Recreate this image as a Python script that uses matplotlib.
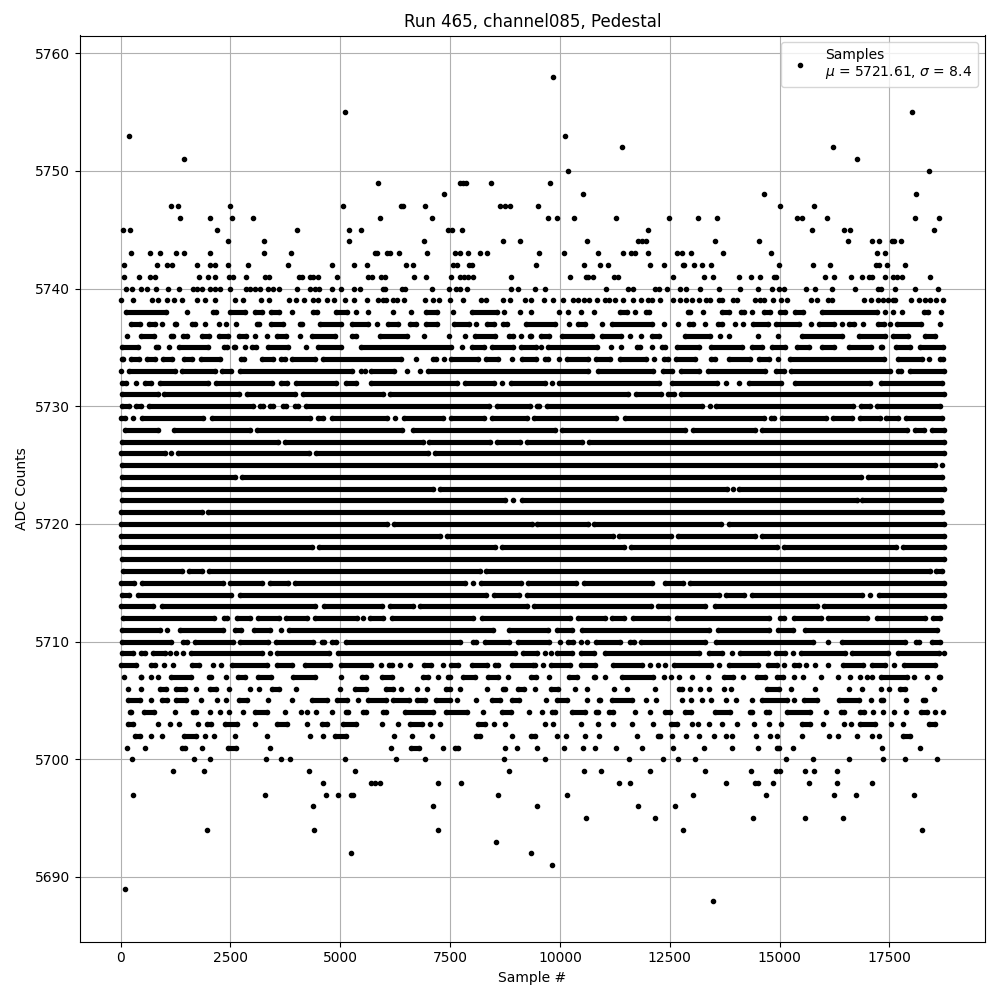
import matplotlib
matplotlib.use("Agg")
import matplotlib.pyplot as plt

# sample numbers for every ADC level.
# a plain number is one sample, a (first, last) pair is a run of samples
# so close together that the dots merge into a solid bar
adc_5758 = [9840]
adc_5755 = [5100, 18025]
adc_5753 = [198, 10114]
adc_5752 = [11414, 16224]
adc_5751 = [1452, 16772]
adc_5750 = [10182, 18405]
adc_5749 = [5852, 7729, 7790, 7851, 8428, 9772]
adc_5748 = [7357, 10524, 14651, 18117]
adc_5747 = [1155, 1315, 2478, 5054, 6384, 6437, 6924, 8634, 8748, 8862, 9507, 15016, 15791]
adc_5746 = [1360, 2022, 2523, 3002, 5898, 7083, 9726, 9932, 10319, 11277, 12485, 13146, 13580,
            15404, 15518, 16088, 18094, 18641]
adc_5745 = [61, 220, 2204, 4005, 5190, 5464, 7448, 7539, 7767, 12016, 15746, 16475, 16612, 18505]
adc_5744 = [2432, 3253, 5190, 6901, 8702, 9090, 10616, 11778, 11870, 11961, 13534, 14537, 16566,
            17114, 17274, 17570, 17615, 17775]
adc_5743 = [243, 676, 904, 1269, 1452, 2044, 3253, 3868, 5784, 5844, 6057, 6126, 6331, 6969, 7608,
            7722, 7904, 8178, 8337, 9523, 10091, 10866, 11436, 11619, 11710, 12006, 12668, 12782,
            12987, 13716, 14811, 17228, 17410]
adc_5742 = [84, 836, 1064, 1178, 1748, 2022, 2136, 2432, 2888, 3800, 4803, 5305, 5601, 6490, 6650,
            7562, 7653, 7927, 7995, 9454, 10547, 10912, 11094, 12052, 12371, 12804, 12827, 13055,
            13238, 13443, 14993, 15768, 16156, 17205, 17273, 17456, 17866]
adc_5741 = [84, 426, 676, 790, 1794, 1999, 2136, 2455, 2546, 2842, 3276, 3367, 4051, 4119, 4302,
            4370, 4484, 4917, 5624, 5715, 5920, 6012, 6673, 6946, 7516, 7722, 7813, 7904, 8018,
            8884, 10228, 10593, 10638, 10752, 11231, 11322, 12576, 13283, 13488, 14081, 14355,
            14560, 14879, 14925, 16042, 16247, 16635, 16886, 17045, 17114, 17410, 17592, 17684,
            17798, 18436]
adc_5740 = [129, 266, 471, 608, 813, 1087, 1338, 1657, 1748, 1862, 2022, 2158, 2250, 2500, 2842,
            2934, 3048, 3162, 3344, 3458, 3610, 4005, 4302, 4416, 4507, 4803, 5008, 5305, 5442,
            5966, 6012, 6399, 6468, 7083, 7471, 7630, 7722, 7881, 8884, 9044, 9432, 9658, 11049,
            11550, 11664, 12166, 12257, 12440, 12736, 12873, 13192, 13625, 14104, 14514, 14834,
            14993, 15107, 15609, 15814, 16202, 16726, 17251, 17319, 17638, 18094, 18618]
adc_5739 = [0, 289, 722, 859, 1064, 1224, 1406, 1748, 1930, 2158, 2607, 2774, 3184, 3367, 3823,
            3990, 4165, 4370, 4484, 4689, 4849, 5100, 5305, 5601, 5852, 5966, 6034, 6194, 6285,
            6445, 6924, 7106, 7243, 7494, 7790, 8200, 8314, 8702, 8862, 9204, 9350, 9635, 9840,
            10068, 10296, 10410, 10547, 10661, 10844, 11026, 11117, 11254, 11436, 11664, 11847,
            12006, 12098, 12280, 12576, 12736, 12873, 13010, 13169, 13329, 13413, 13625, 13694,
            13944, 14036, 14446, 14560, 14651, 14856, 15039, 15176, 15723, 15860, 16110, 16202,
            16932, 17084, 17236, 17350, 17464, 17578, 17638, 18000, 18185, 18300, 18414, 18565,
            18732]
adc_5738 = [(110, 1030), 1520, (2100, 2180), (2490, 2830), (3060, 3210), (3420, 3610), 3890,
            (4370, 4480), (4910, 5160), 5350, 5640, 6210, 6620, (6950, 7190), 7570, (8000, 8560),
            8730, 9080, 9350, 9970, 10180, 10470, 10770, (11360, 11520), 11710, (11950, 12020),
            (12910, 12970), 13250, (13690, 13850), (14130, 14180), 14380, (14640, 14790),
            (15020, 15130), (15350, 15530), (15970, 17210), 17410, 17580, 17780, (18280, 18390),
            18680]
adc_5737 = [(230, 430), (650, 780), 950, (1240, 1270), (1620, 1690), 1920, 2240, 2390, 2630,
            (3110, 3160), (3420, 3690), (4080, 4130), (4540, 5020), (5260, 5630), 5840,
            (6090, 6310), (6580, 6730), (6960, 7210), (7590, 7940), 8100, (8330, 8510),
            (8710, 8790), (9220, 9890), 10200, (10400, 10580), 10960, (11190, 12090), 12380,
            12690, (12940, 13040), 13300, (13600, 13690), 13980, 14160, (14400, 14730),
            (14930, 15450), 15720, (15890, 16240), 16420, (16580, 16700), 16910, (17240, 17380),
            17520, (17680, 18220), 18660]
adc_5736 = [150, (460, 750), (1150, 1190), (1430, 1500), (1850, 2010), (2240, 2450), (2700, 2860),
            3060, 3320, (3550, 3770), 4090, (4350, 4870), (5260, 5350), (5900, 6520), 6900, 7480,
            7830, (8060, 8520), (8840, 8930), 9110, (9310, 9330), (9560, 9740), (10040, 10730),
            (10960, 11400), 11590, 11850, (12090, 12250), (12840, 13420), 13650, 13850, 14510,
            14960, (15510, 16420), (16800, 17400), (17590, 17930), (18320, 18540)]
adc_5735 = [(40, 390), (800, 850), 1110, (1330, 1990), (2350, 2410), (2580, 2610), 2820,
            (2990, 3070), (3350, 3810), 4220, (4500, 5020), (5470, 7530), 7770, (7990, 8260),
            (8460, 8930), (9110, 9460), 9560, (9730, 10840), 11170, 11400, (11760, 11830), 12090,
            (12330, 12400), (12670, 13160), (13430, 14140), (14380, 14600), (14830, 15130),
            (15390, 15660), (15970, 16240), (16590, 17080), (17300, 17330), (17650, 17970),
            (18190, 18720)]
adc_5734 = [(20, 50), (240, 410), (610, 780), (970, 1160), (1440, 1620), (1830, 2270), (2740, 2810),
            (3210, 3470), (3650, 3730), (3910, 4420), (4600, 6390), 6720, (7120, 7180), 7370,
            (7530, 8130), (8310, 8590), 8920, (9140, 9460), (9670, 9720), 9990, (10170, 10640),
            (10810, 11150), (11360, 11960), 12140, (12370, 12470), (12650, 13080), (13440, 13520),
            (13850, 14320), (14530, 14770), 14960, (15230, 17370), (17690, 18240), 18410,
            (18660, 18730)]
adc_5733 = [10, (200, 1230), (1390, 2150), (2310, 2520), (2720, 5270), 5460, 5560, (5710, 6220),
            6520, 6810, (6990, 10650), (10870, 12130), (12350, 12550), (12750, 13160),
            (13370, 14670), (14930, 15090), (15250, 17520), (17700, 17770), (17960, 18740)]
adc_5732 = [(40, 130), 360, (550, 700), (900, 1990), (2160, 3450), (3650, 3790), (3980, 4910),
            (5120, 5360), (5710, 7660), (7840, 8510), 8690, (8880, 9670), 9830, (9980, 12250),
            (12540, 13570), 13770, 14070, (14300, 15030), (15360, 17060), (17310, 18690)]
adc_5731 = [(40, 850), (990, 2690), (2870, 3960), (4160, 5970), (6120, 11550), (11740, 12300),
            (12460, 12600), (12760, 18740)]
adc_5730 = [(20, 190), (340, 470), (640, 3010), (3170, 3240), (3410, 3470), (3700, 3770),
            (3970, 4040), (4210, 8380), (8560, 9310), (9470, 9530), (9710, 13230), 13410,
            (13560, 16680), (16860, 17050), (17220, 18660)]
adc_5729 = [(0, 90), 290, (480, 1880), (2080, 4300), (4490, 4610), (4800, 6070), 6240, (6440, 7340),
            (7520, 8260), (8450, 9240), (9420, 11270), (11490, 14650), (14810, 14880),
            (15060, 16060), (16220, 16650), (16830, 17280), (17430, 17690), (17880, 18690)]
adc_5728 = [(100, 850), (1220, 2940), (3110, 6410), (6660, 9890), (10050, 12850), (13030, 14450),
            (14600, 17900), (18090, 18280), (18470, 18740)]
adc_5727 = [(20, 3580), (3740, 6880), (7030, 8400), (8560, 9080), (9260, 10500), (10660, 18740)]
adc_5726 = [(0, 1000), 1140, (1300, 4290), (4450, 7000), (7150, 18740)]
adc_5725 = [(30, 18540), 18700]
adc_5724 = [(20, 2600), (2770, 16850), (17020, 18690)]
adc_5723 = [(40, 7100), (7270, 13800), 13940, (14070, 18740)]
adc_5722 = [(20, 8750), 8930, (9130, 16760), (16880, 18680)]
adc_5721 = [(0, 1840), (1980, 18690)]
adc_5720 = [(0, 6060), (6220, 9360), (9480, 10640), (10780, 13660), (13860, 18740)]
adc_5719 = [(0, 7280), (7420, 11210), (11340, 12530), (12680, 14450), (14590, 18740)]
adc_5718 = [(0, 4350), (4510, 8520), (8670, 11450), (11610, 14940), (15100, 17650), (17810, 18740)]
adc_5717 = [(30, 18740)]
adc_5716 = [(60, 1400), (1560, 1860), (2010, 8170), (8320, 18430), (18570, 18690)]
adc_5715 = [(0, 310), (490, 2320), (2500, 3220), (3400, 3810), (3970, 7840), 8020, (8210, 9110),
            (9280, 10370), (10550, 12090), (12390, 12810), (12970, 18740)]
adc_5714 = [(40, 200), (390, 2520), (2720, 8320), (8500, 9060), (9260, 13610), (13770, 14180),
            (14380, 16870), 17060, (17260, 18740)]
adc_5713 = [(0, 740), (930, 4420), (4620, 5960), (6120, 6650), (6820, 9250), (9410, 12070),
            (12240, 13310), (13520, 15850), (16020, 18740)]
adc_5712 = [(60, 2130), (2360, 2420), (2640, 2940), (3120, 3610), (3760, 4250), (4430, 5370), 5510,
            (5680, 5970), (6180, 8030), (8230, 10240), (10400, 11020), (11190, 11450),
            (11660, 12470), (12670, 14770), (15000, 15110), (15330, 15940), (16110, 16990),
            (17210, 18310), (18500, 18660)]
adc_5711 = [(40, 890), 1060, (1340, 2320), (2610, 2750), (3040, 3410), 3640, (3840, 8480),
            (8840, 9720), (9940, 10270), (10510, 13400), (13600, 14770), (14970, 15300),
            (15590, 18580)]
adc_5710 = [(20, 1150), (1430, 1500), (1690, 2560), (2720, 3360), (3530, 4380), (4590, 4630),
            (4800, 4900), (5140, 7720), (8030, 8090), (8290, 8850), (9050, 9740), 10010,
            (10190, 10300), 10490, 10610, (10810, 11370), (11590, 11680), (11850, 13310),
            (13560, 15770), 16100, (16430, 17860), (18110, 18170), (18470, 18660)]
adc_5709 = [(20, 280), (460, 550), (740, 1000), 1120, 1250, 1420, (1590, 3220), 3390, (3550, 4740),
            (4940, 8970), (9160, 9480), 9670, 9800, (9940, 10270), (10470, 10770), (11020, 13160),
            (13390, 13690), 13910, (14090, 14730), (14910, 15130), 15300, (15480, 16480),
            (16650, 17480), (17700, 18620), 18740]
adc_5708 = [(0, 360), (680, 770), 990, 1190, (1620, 1780), 2110, 2290, (2530, 3330), (3550, 3890),
            (4200, 4760), (5010, 5690), 5920, (6100, 6170), 6370, 6580, (6910, 7070), 7330,
            (7520, 7680), (7990, 8340), (8520, 8590), (8900, 9380), 9440, 9610, (9800, 10240),
            (10490, 10800), (11210, 11870), 12060, 12230, 12400, (12590, 13440), 13630,
            (13850, 14520), (14740, 14940), 15100, (15330, 15450), 15610, 15800, 16100,
            (16440, 16910), (17110, 17400), 17600, (17830, 18540)]
adc_5707 = [80, (460, 470), 700, 860, (1150, 1610), (2000, 2060), 2400, (2680, 2820), (3130, 3430),
            (3930, 4420), 5020, (5490, 5590), (5960, 6170), (6890, 7000), 7220, (7460, 7490),
            (7800, 8060), (8370, 8590), 8820, (9350, 9460), 9760, (10200, 10390), (10770, 10800),
            11020, (11420, 12130), 12380, 12530, 12710, 13000, 13360, (13730, 13950), 14160,
            (14490, 14670), (14950, 15080), 15330, 15530, 15950, 16330, 16610, 16840, 16990, 17110,
            (17320, 17900), 18070, 18350, (18620, 18660)]
adc_5706 = [170, 470, (900, 1040), (1270, 1460), 1720, (2030, 2180), 2470, 2940, 3160, (3440, 3610),
            4000, 5000, (5330, 5590), (6040, 6200), 6390, 6750, 6980, (7400, 7490), 7720, 8340,
            (8710, 8740), (9050, 9190), 9440, (9790, 9950), 10340, 10610, 11220, 11520, 12170,
            (12720, 12780), 12970, 13190, 13390, 13730, 13900, (14720, 14980), 15260, 15800, 16590,
            16870, 17300, 17490, (17750, 17860), 18510]
adc_5705 = [(170, 430), 700, (930, 1050), (1270, 1490), 1820, 2200, 2400, (2700, 2880), 3360, 3890,
            (4350, 4700), (4920, 5150), 5410, (5620, 6030), (6210, 6560), (6740, 6930), (7180, 7490),
            7650, 8080, (8460, 8630), (8910, 9070), 9690, (9940, 10170), 10610, (10890, 10920),
            (11190, 11640), 11960, 12180, 12780, 12980, 13230, 13440, 13770, 14010, 14370,
            (14600, 15170), 15330, (15550, 15850), (16350, 16800), 17080, (17300, 17350), 17880,
            (18260, 18310)]
adc_5704 = [(210, 240), (530, 750), 1240, (1650, 1710), 2030, 2260, 2470, 2790, (3060, 3330), 3750,
            4110, 4250, 4440, 4820, (5120, 5170), (5520, 5590), (5980, 6030), (6470, 7110),
            (7400, 7880), 8250, (8670, 8890), 9290, 9590, (9810, 9890), (10270, 10580),
            (10810, 10860), (11120, 11200), 11710, 12040, (12400, 12500), (12840, 12980),
            (13540, 13880), (14320, 14370), (14680, 14750), (15170, 15700), 16050, (16390, 16460),
            (16840, 16930), 17120, 17350, 17600, 17880, (18210, 18350), 18540, 18720]
adc_5703 = [(170, 280), 860, 1120, 1330, 1750, (1960, 2060), (2380, 2640), 3060, (3550, 3790), 4240,
            (4580, 4700), (5070, 5360), 5960, 6320, (6580, 6850), 7050, 7270, (8140, 8290), 8500,
            8750, 9650, 9840, 10490, 10860, 11210, 11640, 12120, (12530, 12660), 13000, 13140,
            13390, 13690, 14030, 14410, 14750, 15040, (15500, 15700), 15990, 16460, 16630,
            (16840, 17180), 17540, 17810, (18400, 18540)]
adc_5702 = [(330, 430), 680, 930, (1450, 1720), 1920, 2130, 2600, 3340, 4320, 4610, (4880, 5140),
            6230, 6640, 7090, (8080, 8170), 8900, (9350, 9440), 9930, 10140, 10560, 10890, 11750,
            (12240, 12280), 12560, 12880, 13170, 13500, 13790, 13910, 14470, 14790, 14940, 15510,
            16120, 16330, 16760, 17110, 17260, (17810, 17960)]
adc_5701 = [150, 550, (1390, 1460), 1840, (2450, 2630), 3410, 6160, (6620, 6800), 7330, (7610, 7690),
            8750, 9030, 9480, 10090, 10520, 10800, 11270, 11870, 12570, 13280, 13910, 14510,
            (14950, 14980), 15300, 17330, 18200]
adc_5700 = [250, 1660, 2030, 3300, 3660, 3850, 5100, 6260, 6930, 8730, 9660, 11580, 12350, 12690,
            13080, 15150, 15750, 16580, 17360, 17860, 18580]
adc_5699 = [1190, 1890, 4290, 5330, 8830, 10550, 10940, 12050, 13310, 14350, 14910, 15010, 15580,
            15780, 16310]
adc_5698 = [4600, 5700, 5790, 5900, 7230, 7750, 11350, 11600, 13790, 14450, 14500, 14860, 15680,
            16310, 17110]
adc_5697 = [280, 3280, 4680, 4940, 5250, 5300, 8590, 10160, 13040, 14680, 16230, 16750, 18050]
adc_5696 = [4380, 7110, 9480, 11780, 12630]
adc_5695 = [10600, 12160, 14400, 15590, 16450]
adc_5694 = [1960, 4410, 7230, 12800, 18250]
adc_5693 = [8540]
adc_5692 = [5240, 9340]
adc_5691 = [9830]
adc_5689 = [90]
adc_5688 = [13490]

rows = {
    5758: adc_5758, 5755: adc_5755, 5753: adc_5753, 5752: adc_5752, 5751: adc_5751,
    5750: adc_5750, 5749: adc_5749, 5748: adc_5748, 5747: adc_5747, 5746: adc_5746,
    5745: adc_5745, 5744: adc_5744, 5743: adc_5743, 5742: adc_5742, 5741: adc_5741,
    5740: adc_5740, 5739: adc_5739, 5738: adc_5738, 5737: adc_5737, 5736: adc_5736,
    5735: adc_5735, 5734: adc_5734, 5733: adc_5733, 5732: adc_5732, 5731: adc_5731,
    5730: adc_5730, 5729: adc_5729, 5728: adc_5728, 5727: adc_5727, 5726: adc_5726,
    5725: adc_5725, 5724: adc_5724, 5723: adc_5723, 5722: adc_5722, 5721: adc_5721,
    5720: adc_5720, 5719: adc_5719, 5718: adc_5718, 5717: adc_5717, 5716: adc_5716,
    5715: adc_5715, 5714: adc_5714, 5713: adc_5713, 5712: adc_5712, 5711: adc_5711,
    5710: adc_5710, 5709: adc_5709, 5708: adc_5708, 5707: adc_5707, 5706: adc_5706,
    5705: adc_5705, 5704: adc_5704, 5703: adc_5703, 5702: adc_5702, 5701: adc_5701,
    5700: adc_5700, 5699: adc_5699, 5698: adc_5698, 5697: adc_5697, 5696: adc_5696,
    5695: adc_5695, 5694: adc_5694, 5693: adc_5693, 5692: adc_5692, 5691: adc_5691,
    5689: adc_5689, 5688: adc_5688,
}

dot_x = []
dot_y = []
fig, ax = plt.subplots(figsize=(10, 10))

for adc, row in rows.items():
    for item in row:
        if isinstance(item, tuple):
            # round line about as thick as the '.' marker
            ax.plot(item, [adc, adc], color='black', lw=3.7, solid_capstyle='round')
            dot_x.extend(item)
            dot_y.extend([adc, adc])
        else:
            dot_x.append(item)
            dot_y.append(adc)

ax.plot(dot_x, dot_y, 'k.', label='Samples\n$\\mu$ = 5721.61, $\\sigma$ = 8.4')

ax.set_title('Run 465, channel085, Pedestal')
ax.set_xlabel('Sample #')
ax.set_ylabel('ADC Counts')
ax.legend(loc='upper right')
ax.grid(True)
fig.tight_layout()
fig.subplots_adjust(top=0.9645)
fig.savefig('out.png', dpi=100)
